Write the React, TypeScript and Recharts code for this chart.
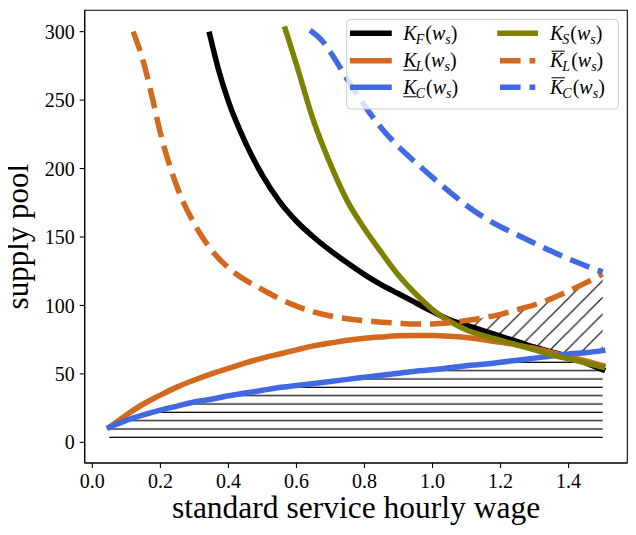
import React from 'react';
import { ComposedChart, Line, Area, XAxis, YAxis, ReferenceArea } from 'recharts';

type Pt = [number, number];

const xTicks = [0, 0.2, 0.4, 0.6, 0.8, 1.0, 1.2, 1.4];
const yTicks = [0, 50, 100, 150, 200, 250, 300];

// K_F(w_s)
const kF: Pt[] = [
  [0.345, 298], [0.37, 273], [0.4, 249], [0.45, 219], [0.5, 195], [0.55, 176],
  [0.6, 161.5], [0.65, 150], [0.7, 140], [0.75, 131], [0.8, 122.5], [0.85, 115],
  [0.9, 108.5], [0.95, 102], [1.0, 95.5], [1.05, 89.5], [1.1, 85.5], [1.15, 81.5],
  [1.2, 77.5], [1.25, 73.5], [1.3, 69.5], [1.35, 66], [1.4, 62.5], [1.45, 58], [1.5, 53],
];

// K_S(w_s)
const kS: Pt[] = [
  [0.567, 302], [0.6, 276], [0.65, 235], [0.7, 203], [0.75, 176], [0.8, 156],
  [0.85, 138.5], [0.9, 122], [0.95, 108.5], [1.0, 97], [1.05, 88.5], [1.1, 82],
  [1.15, 78], [1.2, 74.5], [1.25, 71], [1.3, 67.5], [1.35, 64], [1.4, 61],
  [1.45, 58], [1.5, 55],
];

// lower K_L(w_s)
const kLLow: Pt[] = [
  [0.05, 11], [0.1, 20], [0.15, 28], [0.2, 34.5], [0.25, 40.5], [0.3, 45.5],
  [0.35, 50], [0.4, 54], [0.45, 58], [0.5, 61.5], [0.55, 64.5], [0.6, 67.5],
  [0.65, 70.5], [0.7, 72.5], [0.75, 74.5], [0.8, 76], [0.85, 77], [0.9, 77.8],
  [0.95, 78], [1.0, 78], [1.05, 77.5], [1.1, 76.5], [1.15, 75], [1.2, 73],
  [1.25, 71], [1.3, 68.5], [1.35, 65.5], [1.4, 62.5], [1.45, 59.5], [1.5, 56],
];

// lower K_C(w_s)
const kCLow: Pt[] = [
  [0.05, 11], [0.1, 16], [0.15, 20], [0.2, 23.5], [0.25, 26.5], [0.3, 29.5],
  [0.35, 31.5], [0.4, 34], [0.45, 36], [0.5, 38], [0.55, 40], [0.6, 41.5],
  [0.65, 43], [0.7, 44.5], [0.75, 46], [0.8, 47.5], [0.85, 49], [0.9, 50.5],
  [0.95, 52], [1.0, 53], [1.05, 54.5], [1.1, 56], [1.15, 57], [1.2, 58.5],
  [1.25, 60], [1.3, 61.5], [1.35, 63], [1.4, 64.5], [1.45, 65.5], [1.5, 67],
];

// upper K_L(w_s)
const kLHigh: Pt[] = [
  [0.12, 300], [0.15, 278], [0.175, 253], [0.2, 226], [0.25, 186], [0.3, 159.5],
  [0.35, 140.5], [0.4, 127.5], [0.45, 118.5], [0.5, 111.5], [0.55, 105], [0.6, 99.5],
  [0.65, 95.3], [0.7, 92.3], [0.75, 90.3], [0.8, 88.8], [0.85, 87.8], [0.9, 87],
  [0.95, 86.5], [1.0, 86.5], [1.05, 87.3], [1.1, 89], [1.15, 91], [1.2, 93.5],
  [1.25, 97], [1.3, 100.5], [1.35, 105], [1.4, 110.5], [1.45, 116.5], [1.5, 123],
];

// upper K_C(w_s)
const kCHigh: Pt[] = [
  [0.64, 301], [0.68, 292], [0.7, 285], [0.75, 265], [0.8, 246], [0.85, 229.5],
  [0.9, 216], [0.95, 204.5], [1.0, 193.5], [1.05, 183], [1.1, 173], [1.15, 164.5],
  [1.2, 157.5], [1.25, 151.5], [1.3, 145.5], [1.35, 139.5], [1.4, 134], [1.45, 129],
  [1.5, 124.5],
];

const toRows = (pts: Pt[]) => pts.map(([x, y]) => ({ x, y }));
const valueAt = (pts: Pt[], x: number): number | undefined => {
  const p = pts.find((q) => Math.abs(q[0] - x) < 1e-9);
  return p ? p[1] : undefined;
};
const defined = (v: (number | undefined)[]) => v.filter((a) => a !== undefined) as number[];

const gridX = kCLow.map((p) => p[0]);

const lowerHatch = gridX.map((x) => {
  const tops = defined([kCLow, kLLow, kF, kS].map((s) => valueAt(s, x)));
  return { x, range: [0, Math.min(...tops)] };
});

const feasibleHatch = gridX
  .filter((x) => x >= 1.05 - 1e-9)
  .map((x) => {
    const lo = Math.max(...defined([kF, kS, kLLow, kCLow].map((s) => valueAt(s, x))));
    const hi = Math.min(...defined([kLHigh, kCHigh].map((s) => valueAt(s, x))));
    return { x, range: [Math.min(lo, hi), hi] };
  });

const FONT = '"Liberation Serif", "Times New Roman", serif';
const BLACK = '#000000';
const ORANGE = '#D2691E';
const BLUE = '#4169E1';
const OLIVE = '#808000';
const LW = 5.5;
const DASH = '20.6 8.9';

const legendItems = [
  { sub: 'F', color: BLACK, dashed: false, mark: 'none', col: 0, row: 0 },
  { sub: 'L', color: ORANGE, dashed: false, mark: 'under', col: 0, row: 1 },
  { sub: 'C', color: BLUE, dashed: false, mark: 'under', col: 0, row: 2 },
  { sub: 'S', color: OLIVE, dashed: false, mark: 'none', col: 1, row: 0 },
  { sub: 'L', color: ORANGE, dashed: true, mark: 'over', col: 1, row: 1 },
  { sub: 'C', color: BLUE, dashed: true, mark: 'over', col: 1, row: 2 },
];

const W = 636;
const H = 535;

const LegendOverlay = () => {
  const rowsY = [33.3, 60.7, 87.3];
  const handleX = [[352.7, 389], [500, 535.3]];
  const textX = [403.3, 550];
  return (
    <svg width={W} height={H} style={{ position: 'absolute', left: 0, top: 0, pointerEvents: 'none' }}>
      <rect x={346.7} y={19.3} width={271.6} height={89.7} rx={4} ry={4}
        fill="rgba(255,255,255,0.8)" stroke="#cccccc" strokeWidth={1} />
      {legendItems.map((it, i) => {
        const cy = rowsY[it.row];
        const [hx1, hx2] = handleX[it.col];
        const tx = textX[it.col];
        const base = cy + 6.5;
        return (
          <g key={i}>
            <line x1={hx1} x2={hx2} y1={cy} y2={cy} stroke={it.color} strokeWidth={LW}
              strokeDasharray={it.dashed ? DASH : undefined}
              strokeLinecap={it.dashed ? 'butt' : 'square'} />
            <text x={tx} y={base} fontFamily={FONT} fontSize={20} fill="#000">
              <tspan fontStyle="italic">K</tspan>
              <tspan fontStyle="italic" fontSize={14} dx={-1} dy={4}>{it.sub}</tspan>
              <tspan dx={1} dy={-4}>(</tspan>
              <tspan fontStyle="italic">w</tspan>
              <tspan fontStyle="italic" fontSize={14} dy={4}>s</tspan>
              <tspan dy={-4}>)</tspan>
            </text>
            {it.mark === 'under' && (
              <line x1={tx} x2={tx + 13.5} y1={base + 3} y2={base + 3} stroke="#000" strokeWidth={1} />
            )}
            {it.mark === 'over' && (
              <line x1={tx + 1.5} x2={tx + 15} y1={base - 16} y2={base - 16} stroke="#000" strokeWidth={1} />
            )}
          </g>
        );
      })}
    </svg>
  );
};

export default function App() {
  return (
    <div style={{ position: 'relative', width: W, height: H, marginLeft: -8, marginTop: -8, fontFamily: FONT }}>
      <ComposedChart width={W} height={H} margin={{ top: 10.3, right: 8.7, bottom: 0, left: 0 }}>
        <defs>
          <pattern id="hatchH" patternUnits="userSpaceOnUse" x={0} y={0} width={20} height={8.3333}>
            <line x1={0} x2={20} y1={3.97} y2={3.97} stroke="#000" strokeWidth={1.2} />
          </pattern>
          <pattern id="hatchD" patternUnits="userSpaceOnUse" x={0.05} y={0} width={16.667} height={16.667}>
            <line x1={0} y1={16.667} x2={16.667} y2={0} stroke="#000" strokeWidth={1.2} />
            <line x1={-2} y1={2} x2={2} y2={-2} stroke="#000" strokeWidth={1.2} />
            <line x1={14.667} y1={18.667} x2={18.667} y2={14.667} stroke="#000" strokeWidth={1.2} />
          </pattern>
        </defs>
        <XAxis
          dataKey="x"
          type="number"
          domain={[-0.0225, 1.5725]}
          allowDataOverflow
          ticks={xTicks}
          tickFormatter={(v: number) => v.toFixed(1)}
          height={72}
          tickSize={5}
          tickMargin={6}
          tick={{ fill: '#000', fontSize: 20, fontFamily: FONT }}
          tickLine={{ stroke: '#000', strokeWidth: 1.1 }}
          axisLine={{ stroke: '#000', strokeWidth: 1.1 }}
          label={(props: any) => {
            const vb = props.viewBox || { x: 84.7, y: 463, width: 542.6 };
            return (
              <text x={vb.x + vb.width / 2} y={vb.y + 55.3} textAnchor="middle"
                fontFamily={FONT} fontSize={31.5} fill="#000">
                standard service hourly wage
              </text>
            );
          }}
        />
        <YAxis
          type="number"
          domain={[-15.1, 315.6]}
          allowDataOverflow
          ticks={yTicks}
          width={84.7}
          tickSize={5}
          tickMargin={5}
          tick={{ fill: '#000', fontSize: 20, fontFamily: FONT }}
          tickLine={{ stroke: '#000', strokeWidth: 1.1 }}
          axisLine={{ stroke: '#000', strokeWidth: 1.1 }}
          label={(props: any) => {
            const vb = props.viewBox || { x: 0, y: 10.3, width: 84.7, height: 452.7 };
            const cx = 28.5;
            const cy = vb.y + vb.height / 2;
            return (
              <text x={cx} y={cy} textAnchor="middle" transform={`rotate(-90, ${cx}, ${cy})`}
                fontFamily={FONT} fontSize={31} fill="#000">
                supply pool
              </text>
            );
          }}
        />
        <Area data={lowerHatch} dataKey="range" type="monotone" stroke="none"
          fill="url(#hatchH)" fillOpacity={1} isAnimationActive={false} dot={false} activeDot={false} />
        <Area data={feasibleHatch} dataKey="range" type="monotone" stroke="none"
          fill="url(#hatchD)" fillOpacity={1} isAnimationActive={false} dot={false} activeDot={false} />
        <Line data={toRows(kF)} dataKey="y" type="monotone" stroke={BLACK} strokeWidth={LW}
          strokeLinecap="square" dot={false} activeDot={false} isAnimationActive={false} />
        <Line data={toRows(kLLow)} dataKey="y" type="monotone" stroke={ORANGE} strokeWidth={LW}
          strokeLinecap="square" dot={false} activeDot={false} isAnimationActive={false} />
        <Line data={toRows(kCLow)} dataKey="y" type="monotone" stroke={BLUE} strokeWidth={LW}
          strokeLinecap="square" dot={false} activeDot={false} isAnimationActive={false} />
        <Line data={toRows(kS)} dataKey="y" type="monotone" stroke={OLIVE} strokeWidth={LW}
          strokeLinecap="square" dot={false} activeDot={false} isAnimationActive={false} />
        <Line data={toRows(kLHigh)} dataKey="y" type="monotone" stroke={ORANGE} strokeWidth={LW}
          strokeDasharray={DASH} dot={false} activeDot={false} isAnimationActive={false} />
        <Line data={toRows(kCHigh)} dataKey="y" type="monotone" stroke={BLUE} strokeWidth={LW}
          strokeDasharray={DASH} dot={false} activeDot={false} isAnimationActive={false} />
        <ReferenceArea x1={-0.0225} x2={1.5725} y1={-15.1} y2={315.6} fill="none" fillOpacity={0}
          stroke="#000" strokeWidth={1.1} ifOverflow="visible" />
      </ComposedChart>
      <LegendOverlay />
    </div>
  );
}
